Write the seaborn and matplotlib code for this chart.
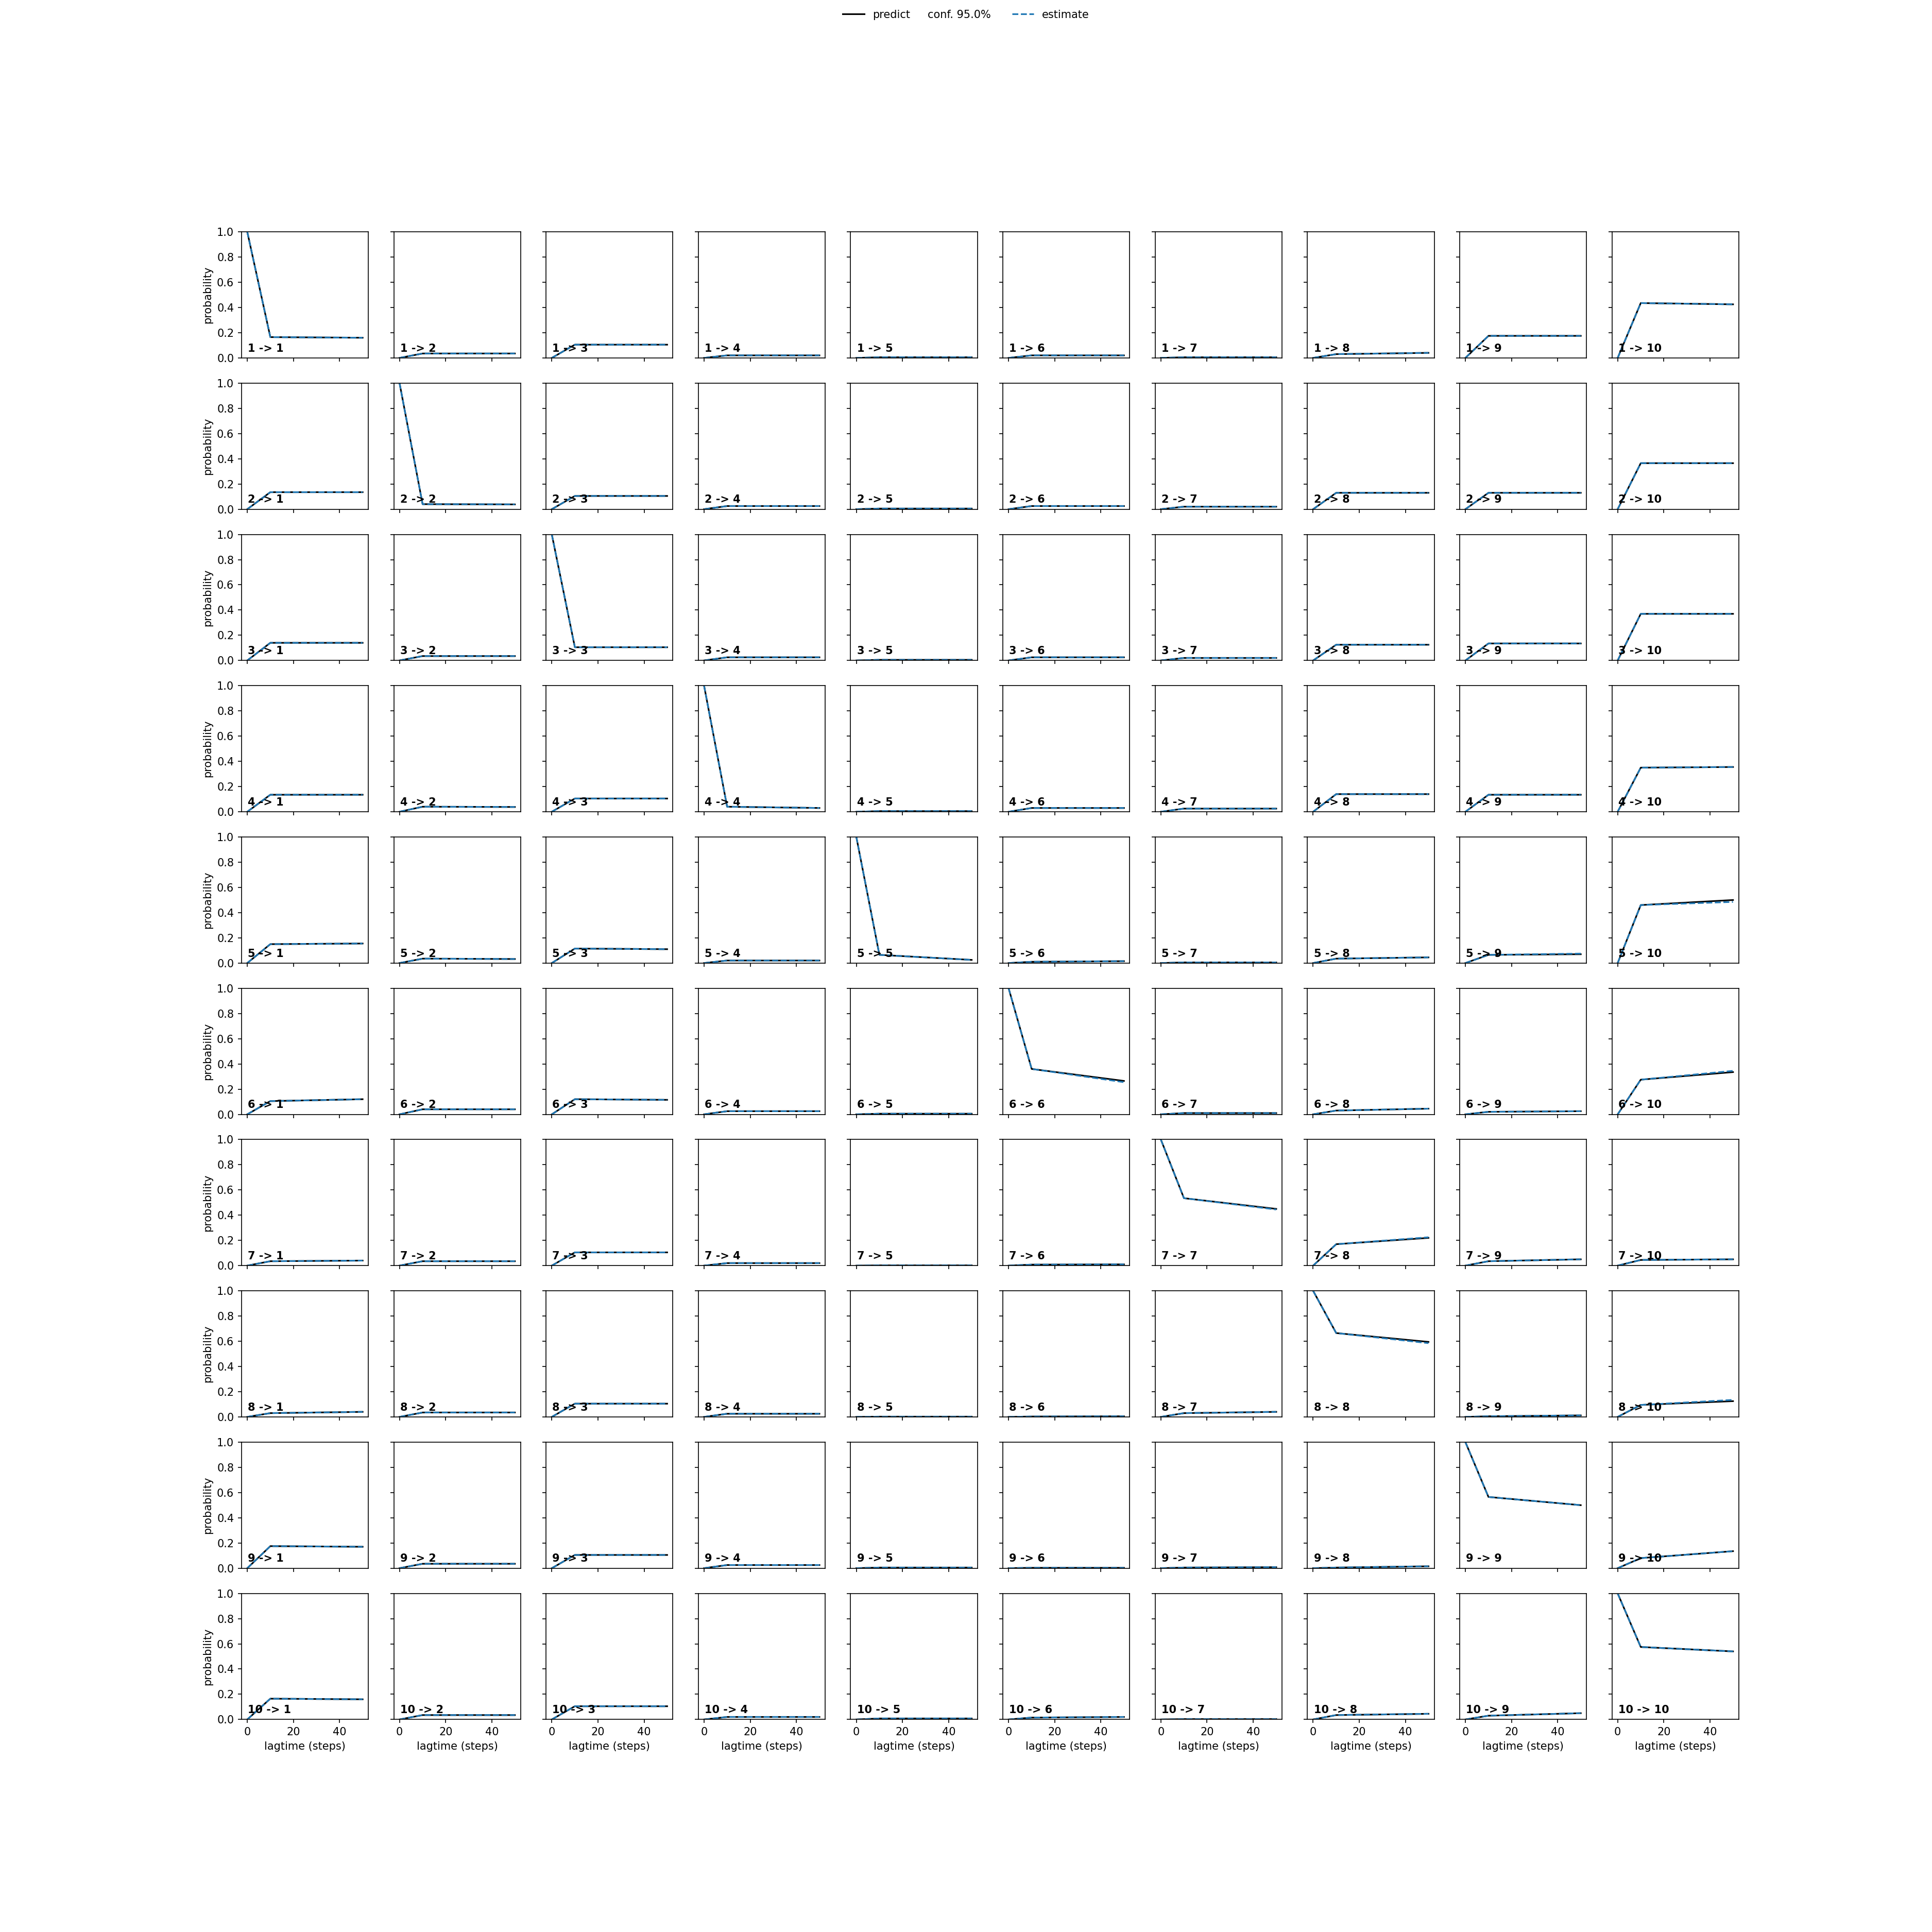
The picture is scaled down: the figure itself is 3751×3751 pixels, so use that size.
import numpy as np
import pandas as pd
import matplotlib
matplotlib.use("Agg")
import matplotlib.pyplot as plt
from matplotlib.lines import Line2D
from matplotlib.legend_handler import HandlerBase
import seaborn as sns

# lag times (steps) at which the transition probabilities were evaluated
lagtimes = [0, 10, 50]
states = [1, 2, 3, 4, 5, 6, 7, 8, 9, 10]

# transition probabilities i -> j at lag 10 (prediction == estimate there)
prob_lag10 = [
    [0.165, 0.035, 0.105, 0.020, 0.005, 0.020, 0.005, 0.030, 0.175, 0.435],
    [0.135, 0.040, 0.105, 0.025, 0.005, 0.025, 0.020, 0.130, 0.130, 0.365],
    [0.140, 0.035, 0.105, 0.025, 0.005, 0.025, 0.020, 0.125, 0.135, 0.370],
    [0.135, 0.040, 0.105, 0.040, 0.005, 0.030, 0.025, 0.140, 0.135, 0.350],
    [0.150, 0.035, 0.115, 0.020, 0.065, 0.010, 0.005, 0.035, 0.065, 0.460],
    [0.105, 0.040, 0.120, 0.025, 0.005, 0.360, 0.010, 0.030, 0.020, 0.275],
    [0.035, 0.035, 0.105, 0.020, 0.002, 0.008, 0.535, 0.170, 0.035, 0.045],
    [0.030, 0.035, 0.105, 0.025, 0.002, 0.003, 0.030, 0.665, 0.005, 0.095],
    [0.175, 0.035, 0.105, 0.025, 0.005, 0.003, 0.005, 0.005, 0.565, 0.080],
    [0.165, 0.035, 0.105, 0.020, 0.008, 0.015, 0.003, 0.035, 0.030, 0.575],
]

# predicted transition probabilities at lag 50
predict_lag50 = [
    [0.160, 0.035, 0.105, 0.020, 0.005, 0.020, 0.005, 0.040, 0.175, 0.425],
    [0.135, 0.038, 0.105, 0.025, 0.005, 0.025, 0.020, 0.130, 0.130, 0.365],
    [0.140, 0.035, 0.105, 0.025, 0.005, 0.025, 0.020, 0.125, 0.135, 0.370],
    [0.135, 0.038, 0.105, 0.030, 0.005, 0.030, 0.025, 0.140, 0.135, 0.355],
    [0.155, 0.032, 0.110, 0.020, 0.025, 0.015, 0.005, 0.045, 0.070, 0.500],
    [0.120, 0.040, 0.115, 0.025, 0.005, 0.265, 0.010, 0.045, 0.025, 0.335],
    [0.040, 0.035, 0.105, 0.020, 0.002, 0.010, 0.450, 0.220, 0.050, 0.050],
    [0.040, 0.035, 0.105, 0.025, 0.002, 0.005, 0.040, 0.595, 0.012, 0.125],
    [0.170, 0.035, 0.105, 0.025, 0.005, 0.003, 0.008, 0.015, 0.500, 0.135],
    [0.160, 0.035, 0.105, 0.020, 0.008, 0.020, 0.003, 0.045, 0.050, 0.540],
]

# estimated transition probabilities at lag 50
estimate_lag50 = [
    [0.160, 0.035, 0.105, 0.020, 0.005, 0.020, 0.005, 0.040, 0.175, 0.425],
    [0.135, 0.038, 0.105, 0.025, 0.005, 0.025, 0.020, 0.130, 0.130, 0.365],
    [0.140, 0.035, 0.105, 0.025, 0.005, 0.025, 0.020, 0.125, 0.135, 0.370],
    [0.135, 0.038, 0.105, 0.030, 0.005, 0.030, 0.025, 0.140, 0.135, 0.355],
    [0.155, 0.032, 0.110, 0.020, 0.025, 0.015, 0.005, 0.045, 0.075, 0.485],
    [0.120, 0.040, 0.115, 0.025, 0.005, 0.255, 0.010, 0.045, 0.025, 0.345],
    [0.040, 0.035, 0.105, 0.020, 0.002, 0.010, 0.445, 0.225, 0.050, 0.050],
    [0.040, 0.035, 0.105, 0.025, 0.002, 0.005, 0.040, 0.585, 0.012, 0.135],
    [0.170, 0.035, 0.105, 0.025, 0.005, 0.003, 0.008, 0.015, 0.500, 0.135],
    [0.160, 0.035, 0.105, 0.020, 0.008, 0.020, 0.003, 0.045, 0.050, 0.540],
]


class NoHandle(HandlerBase):
    # the conf. entry has no visible handle and takes (almost) no room
    def legend_artist(self, legend, orig_handle, fontsize, handlebox):
        handlebox.width = -legend.handletextpad * fontsize - 4
        art = Line2D([], [], color="none")
        handlebox.add_artist(art)
        return art


# build a long table: one row per (kind, from, to, lagtime)
rows = []
n = len(states)
for i in range(n):
    for j in range(n):
        start = 1.0 if i == j else 0.0
        for kind, last in (("predict", predict_lag50), ("estimate", estimate_lag50)):
            vals = [start, prob_lag10[i][j], last[i][j]]
            for lag, v in zip(lagtimes, vals):
                rows.append({"kind": kind, "src": states[i], "dst": states[j],
                             "lagtime": lag, "probability": v})
df = pd.DataFrame(rows)

fig, axes = plt.subplots(n, n, sharex=True, sharey=True, figsize=(25, 25))

for i, si in enumerate(states):
    for j, sj in enumerate(states):
        ax = axes[i, j]
        sub = df[(df["src"] == si) & (df["dst"] == sj)]
        sns.lineplot(data=sub[sub["kind"] == "predict"], x="lagtime", y="probability",
                     color="black", linestyle="-", ax=ax)
        sns.lineplot(data=sub[sub["kind"] == "estimate"], x="lagtime", y="probability",
                     color="C0", linestyle="--", ax=ax)
        ax.text(0.05, 0.05, f"{si} -> {sj}", transform=ax.transAxes, weight="bold")
        ax.set_ylim(0, 1)
        ax.set_xlabel("lagtime (steps)" if i == n - 1 else "")
        ax.set_ylabel("probability" if j == 0 else "")

conf_handle = Line2D([], [], color="none")
handles = [Line2D([], [], color="black", linestyle="-"),
           conf_handle,
           Line2D([], [], color="C0", linestyle="--")]
fig.legend(handles, ["predict", "conf. 95.0%", "estimate"],
           loc="upper center", ncol=3, frameon=False,
           handler_map={conf_handle: NoHandle()})

fig.savefig("out.png", dpi=150.04)
